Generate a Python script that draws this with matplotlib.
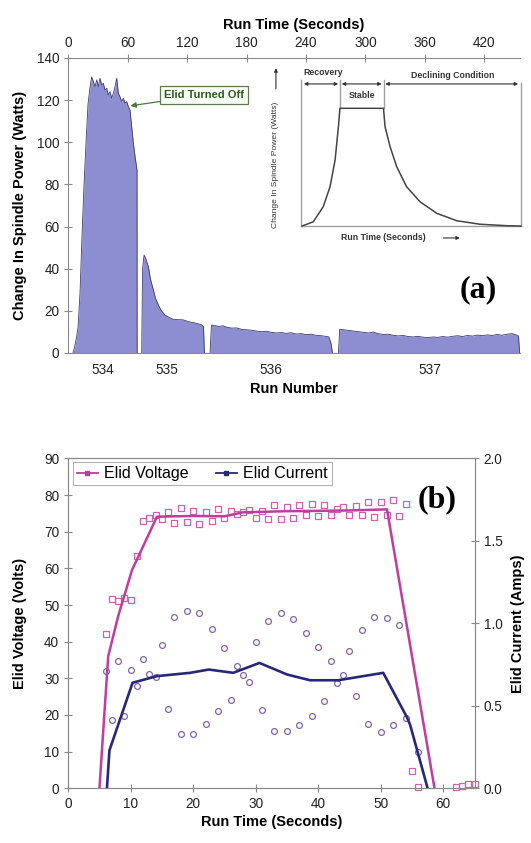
import matplotlib
matplotlib.use('Agg')
import matplotlib.pyplot as plt
from matplotlib.lines import Line2D

plt.rcParams['font.family'] = ['Liberation Sans', 'DejaVu Sans']

# ---- panel (a): spindle power per run ----
seg534_t = [4.7, 6.5, 8.5, 9.8, 11.8, 13.8, 15.9, 17.9, 19.9, 21.9, 23.6, 25.3, 27.0, 28.7,
            30.3, 32.0, 33.7, 35.4, 37.0, 38.8, 40.4, 42.1, 43.8, 45.5, 47.2, 48.9, 50.5,
            52.2, 53.9, 55.6, 57.3, 59.0, 60.6, 62.3, 64.0, 65.7, 67.4, 69.4, 69.5]
seg534_w = [0, 3, 8, 12, 28, 55, 80, 100, 118, 126, 131, 128.8, 126.4, 129.6,
            126.4, 130.4, 127.2, 128, 124.8, 125.6, 122.5, 124, 120.9, 123.3, 126.4, 130.4, 123.3,
            121.6, 119.3, 120.9, 118.5, 119.3, 116.9, 115.3, 107.4, 99.5, 93.2, 86.8, 0]

seg535_t = [74.1, 75.0, 76.5, 78.0, 80.8, 83.0, 85.9, 88.0, 90.9, 94.0, 97.7, 102, 106, 111,
            116, 121, 126, 130, 134.7, 136.5, 137.4]
seg535_w = [0, 40, 46.5, 45, 41, 35, 29.9, 26, 22.8, 20, 18, 16.8, 16, 15.8,
            15.7, 14.9, 14.4, 14.0, 13.3, 12.5, 0]

seg536_t = [143.1, 144.5, 148, 152, 156, 160, 165, 170, 175, 180, 185, 190, 195, 200, 205,
            210, 215, 220, 225, 230, 235, 240, 245, 250, 255, 260, 263, 265, 266.7]
seg536_w = [0, 13.2, 13.0, 12.6, 12.9, 12.2, 11.8, 11.9, 11.2, 11.0, 10.8, 10.4, 10.1, 10.3, 9.8,
            9.5, 9.7, 9.3, 9.6, 9.0, 9.2, 8.7, 8.9, 8.4, 8.2, 7.9, 7.6, 5.0, 0]

seg537_t = [272.7, 274, 278, 283, 288, 293, 298, 303, 308, 313, 318, 323, 328, 333, 338, 343,
            348, 353, 358, 363, 368, 373, 378, 383, 388, 393, 398, 403, 408, 413, 418, 423,
            428, 433, 438, 443, 448, 452, 454.5, 455.6]
seg537_w = [0, 11.3, 11.0, 10.7, 10.4, 10.1, 9.8, 9.5, 9.9, 9.1, 8.8, 8.9, 8.4, 8.1, 8.3, 7.8,
            7.6, 7.9, 7.5, 7.3, 7.6, 7.4, 7.8, 7.5, 7.9, 8.2, 7.8, 8.3, 8.0, 8.5, 8.2, 8.6,
            8.3, 8.8, 8.4, 8.9, 9.2, 8.6, 8.0, 0]

run_centers = [35, 100, 204, 365]
run_labels = ['534', '535', '536', '537']
time_ticks = [0, 60, 120, 180, 240, 300, 360, 420]
power_ticks = [0, 20, 40, 60, 80, 100, 120, 140]

# schematic inset (normalised time / power)
sketch_x = [0.5, 5.6, 10.1, 13.2, 15.5, 17.0, 17.7, 37.5, 38.2, 40.5, 43.5, 48.0, 54.1,
            61.7, 70.8, 81.4, 93.5, 100]
sketch_y = [0, 2.9, 13.2, 26.9, 45.2, 68.0, 80.6, 80.6, 68.0, 54.3, 40.6, 26.9, 16.6,
            8.7, 3.6, 1.2, 0.2, 0]
phase_edges = [0.5, 17.7, 37.5, 99.5]
phase_names = ['Recovery', 'Stable', 'Declining Condition']

# ---- panel (b): ELID voltage and current ----
volt_t = [6, 7, 8, 9, 10, 11, 12, 13, 14, 15, 16, 17, 18, 19, 20, 21, 22, 23, 24, 25, 26,
          27, 28, 29, 30, 31, 32, 33, 34, 35, 36, 37, 38, 39, 40, 41, 42, 43, 44, 45, 46,
          47, 48, 49, 50, 51, 52, 53, 54, 55, 56, 62, 63, 64, 65]
volt_v = [42.1, 51.6, 51.0, 52.0, 51.4, 63.4, 73.0, 73.8, 74.5, 73.4, 75.5, 72.3, 76.5,
          72.7, 75.6, 72.1, 75.4, 73.0, 76.1, 73.8, 75.7, 74.8, 75.4, 75.9, 73.8, 75.7,
          73.4, 77.3, 73.4, 76.8, 73.7, 77.2, 74.7, 77.5, 74.4, 77.3, 74.7, 76.1, 76.8,
          74.5, 77.0, 74.5, 78.1, 74.1, 78.1, 74.7, 78.6, 74.3, 77.6, 4.8, 0.3,
          0.3, 0.7, 1.1, 1.1]
volt_fit_t = [5.0, 6.4, 8.0, 10.2, 14.2, 20, 25, 28, 35, 45, 51, 58.6]
volt_fit_v = [0, 36, 47, 59.5, 74.1, 74.3, 74.2, 75.3, 75.6, 75.8, 76.1, 0]

curr_t = [6, 7, 8, 9, 10, 11, 12, 13, 14, 15, 16, 17, 18, 19, 20, 21, 22, 23, 24, 25, 26,
          27, 28, 29, 30, 31, 32, 33, 34, 35, 36, 37, 38, 39, 40, 41, 42, 43, 44, 45, 46,
          47, 48, 49, 50, 51, 52, 53, 54, 56]
curr_a = [0.713, 0.414, 0.773, 0.44, 0.715, 0.622, 0.786, 0.691, 0.676, 0.869, 0.479,
          1.036, 0.329, 1.075, 0.329, 1.064, 0.39, 0.966, 0.469, 0.849, 0.535, 0.743,
          0.687, 0.644, 0.885, 0.475, 1.014, 0.349, 1.06, 0.349, 1.024, 0.384, 0.94,
          0.438, 0.858, 0.529, 0.771, 0.636, 0.687, 0.833, 0.56, 0.96, 0.389, 1.036,
          0.34, 1.031, 0.384, 0.993, 0.429, 0.222]
curr_fit_t = [6.2, 6.6, 10.3, 14.2, 19.5, 22.5, 26.4, 30.6, 35.0, 38.7, 43.2, 50.4, 54.2, 54.7, 57.5]
curr_fit_a = [0, 0.23, 0.64, 0.68, 0.70, 0.72, 0.70, 0.76, 0.69, 0.655, 0.655, 0.70, 0.43, 0.385, 0]

axis_gray = '#8a8a8a'
fill_col = '#8d8ed2'
edge_col = '#3c3c6e'
volt_col = '#c13c9c'
sq_col = '#cc62ad'
curr_col = '#27287a'
circ_col = '#8463a6'

fig = plt.figure(figsize=(5.31, 8.43), dpi=100)

# ---------------- (a) ----------------
ax1 = fig.add_axes([0.1286, 0.5813, 0.8507, 0.3499])
for t, w in [(seg534_t, seg534_w), (seg535_t, seg535_w),
             (seg536_t, seg536_w), (seg537_t, seg537_w)]:
    ax1.fill_between(t, w, color=fill_col, lw=0)
    ax1.plot(t, w, color=edge_col, lw=0.6)

ax1.set_xlim(0, 456)
ax1.set_ylim(0, 140)
ax1.set_yticks(power_ticks)
ax1.set_xticks(run_centers, run_labels)
ax1.tick_params(axis='x', length=0, pad=7, labelsize=9.8, colors='#222')
ax1.tick_params(axis='y', direction='inout', length=6, color=axis_gray, labelsize=9.8,
                labelcolor='#222')
ax1.set_xlabel('Run Number', fontsize=10.5, fontweight='bold', labelpad=4)
ax1.set_ylabel('Change In Spindle Power (Watts)', fontsize=10.5, fontweight='bold', labelpad=7)
for s in ['right', 'top']:
    ax1.spines[s].set_visible(False)
for s in ['left', 'bottom']:
    ax1.spines[s].set_color(axis_gray)

top = ax1.secondary_xaxis('top')
top.set_xticks(time_ticks)
top.tick_params(direction='inout', length=6, color=axis_gray, labelsize=9.8, labelcolor='#222', pad=3)
top.spines['top'].set_color(axis_gray)
top.set_xlabel('Run Time (Seconds)', fontsize=10.5, fontweight='bold', labelpad=5)

ax1.annotate('Elid Turned Off', xy=(61.3, 117.2), xytext=(137.1, 122.4),
             ha='center', va='center', fontsize=8, fontweight='bold', color='#2d5a1e',
             bbox=dict(boxstyle='square,pad=0.35', fc='#fbfdf8', ec='#5c7a4c', lw=0.9),
             arrowprops=dict(arrowstyle='-|>', color='#4a7a3a', lw=0.9, mutation_scale=8,
                             shrinkA=0, shrinkB=1))
ax1.text(414, 30, '(a)', ha='center', va='center', fontsize=23, fontweight='bold',
         family='Liberation Serif')

# schematic inset
ins = fig.add_axes([301 / 531, (843 - 226) / 843, 220 / 531, 146 / 843])
ins.set_xlim(0, 100)
ins.set_ylim(0, 100)
ins.axis('off')
frame = dict(color='#a0a0a0', lw=1.0, clip_on=False)
ins.plot([0, 0], [0, 100], **frame)
ins.plot([0, 100], [0, 0], **frame)
ins.plot([100, 100], [0, 98], **frame)
ins.plot([phase_edges[1]] * 2, [80.6, 100], **frame)
ins.plot([phase_edges[2]] * 2, [80.6, 100], **frame)
ins.plot(sketch_x, sketch_y, color='#444444', lw=1.1, clip_on=False)

arr = dict(arrowstyle='<|-|>', color='#333333', lw=0.8, mutation_scale=5, shrinkA=0, shrinkB=0)
for a, b in zip(phase_edges[:-1], phase_edges[1:]):
    ins.annotate('', xy=(b - 0.8, 97.3), xytext=(a + 0.8, 97.3), arrowprops=arr,
                 annotation_clip=False)
txt = dict(fontsize=6.3, fontweight='bold', color='#333333', ha='center', va='center')
ins.text(10.2, 105, phase_names[0], **txt)
ins.text(27.6, 89.7, phase_names[1], **txt)
ins.text(69.1, 103.4, phase_names[2], **txt)
ins.text(-11.4, 41.8, 'Change In Spindle Power (Watts)', rotation=90, fontsize=6.1,
         color='#333333', ha='center', va='center')
ins.annotate('', xy=(-11.4, 110), xytext=(-11.4, 92), arrowprops=dict(
    arrowstyle='-|>', color='#333333', lw=0.8, mutation_scale=5), annotation_clip=False)
ins.text(18.2, -8.2, 'Run Time (Seconds)', fontsize=6.3, fontweight='bold', color='#333333',
         ha='left', va='center')
ins.annotate('', xy=(73.5, -8.2), xytext=(63.5, -8.2), arrowprops=dict(
    arrowstyle='-|>', color='#333333', lw=0.8, mutation_scale=5), annotation_clip=False)

# ---------------- (b) ----------------
ax2 = fig.add_axes([0.1284, 0.0649, 0.7652, 0.3913])
ax3 = ax2.twinx()

ax2.plot(volt_t, volt_v, ls='none', marker='s', mfc='none', mec=sq_col, ms=4.5, mew=0.9,
         clip_on=False)
ax2.plot(volt_fit_t, volt_fit_v, color=volt_col, lw=1.8)
ax3.plot(curr_t, curr_a, ls='none', marker='o', mfc='none', mec=circ_col, ms=4.2, mew=0.9)
ax3.plot(curr_fit_t, curr_fit_a, color=curr_col, lw=1.9)

ax2.set_xlim(0, 65)
ax2.set_ylim(0, 90)
ax3.set_ylim(0, 2.0)
ax2.set_xticks(range(0, 61, 10))
ax2.set_yticks(range(0, 91, 10))
ax3.set_yticks([0, 0.5, 1.0, 1.5, 2.0], ['0.0', '0.5', '1.0', '1.5', '2.0'])
for a in (ax2, ax3):
    a.tick_params(direction='inout', length=6, color=axis_gray, labelsize=9.8, labelcolor='#222')
    for s in a.spines.values():
        s.set_color(axis_gray)
ax2.set_xlabel('Run Time (Seconds)', fontsize=10.5, fontweight='bold', labelpad=3)
ax2.set_ylabel('Elid Voltage (Volts)', fontsize=10.5, fontweight='bold', labelpad=12)
ax3.set_ylabel('Elid Current (Amps)', fontsize=10.5, fontweight='bold', labelpad=6)

handles = [Line2D([], [], color=volt_col, lw=1.3, marker='s', ms=3),
           Line2D([], [], color=curr_col, lw=1.3, marker='s', ms=3)]
leg = ax3.legend(handles, ['Elid Voltage', 'Elid Current'], loc='upper left',
                 bbox_to_anchor=(0.012, 0.988), ncol=2, fontsize=11.5, fancybox=False,
                 edgecolor='#a0a0a0', handlelength=1.3, handletextpad=0.4,
                 columnspacing=1.7, borderpad=0.25, borderaxespad=0)
leg.get_frame().set_linewidth(0.8)
ax3.text(59.1 / 65, 78.6 / 90, '(b)', transform=ax3.transAxes, ha='center', va='center',
         fontsize=23, fontweight='bold', family='Liberation Serif')

fig.savefig('out.png', dpi=100)
